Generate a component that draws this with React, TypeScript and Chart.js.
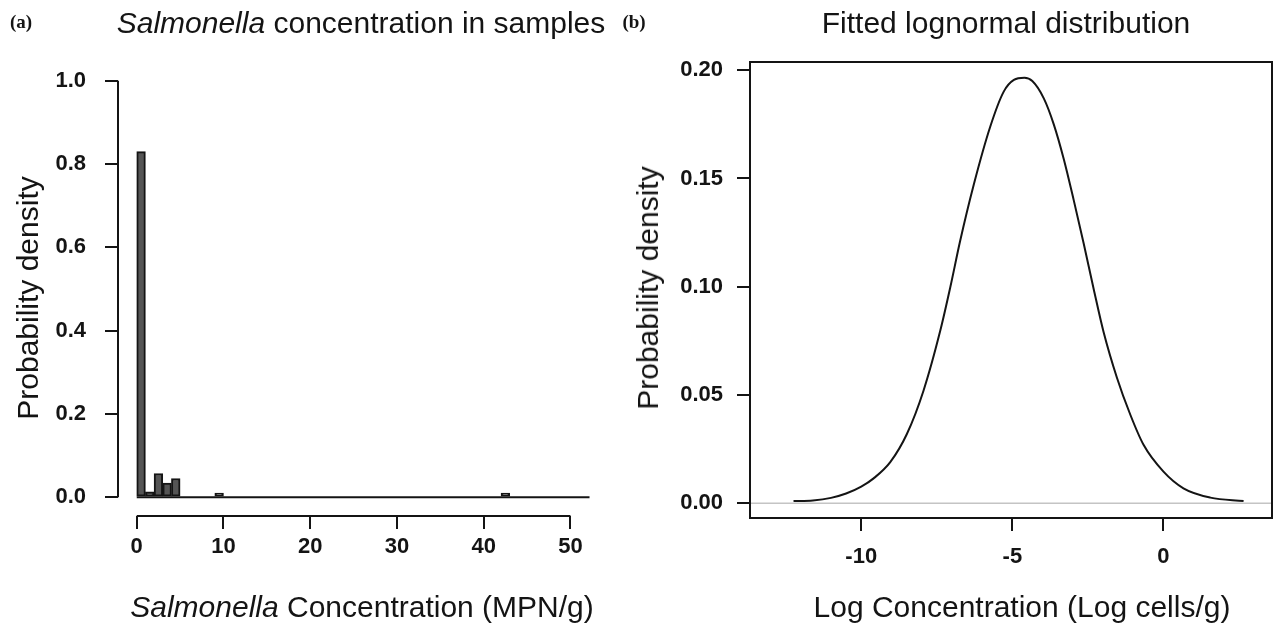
import React, { useEffect, useRef } from "react";
import { Chart, registerables } from "chart.js";

Chart.register(...registerables);

// ---------- Panel (a): histogram of Salmonella concentration ----------
const HIST_BIN_LEFT = [0, 1, 2, 3, 4, 9, 42];
const HIST_DENSITY = [0.83, 0.013, 0.057, 0.034, 0.045, 0.01, 0.01];
const HIST_BASELINE_X = [0, 52.2];
const A_X_TICKS = [0, 10, 20, 30, 40, 50];
const A_Y_TICKS = [0, 0.2, 0.4, 0.6, 0.8, 1.0];
const A_X_RANGE = [-2.16, 54.1];
const A_Y_RANGE = [-0.045, 1.045];

// ---------- Panel (b): fitted lognormal density (log scale) ----------
const FIT_X = [
  -12.24, -11.6, -11.0, -10.5, -10.0, -9.59, -9.04, -8.49, -7.94, -7.38, -7.05,
  -6.73, -6.28, -5.73, -5.29, -4.95, -4.6, -4.34, -3.96, -3.63, -3.3,
  -2.97, -2.64, -2.31, -1.98, -1.54, -1.1, -0.66, 0.0, 0.66, 1.55, 2.65,
];
const FIT_Y = [
  0.001, 0.0013, 0.0025, 0.0045, 0.0077, 0.0115, 0.019, 0.032, 0.052, 0.08, 0.1,
  0.121, 0.147, 0.174, 0.19, 0.1955, 0.1965, 0.195, 0.187, 0.175, 0.159,
  0.14, 0.12, 0.099, 0.079, 0.058, 0.041, 0.027, 0.0146, 0.0069, 0.0026, 0.001,
];
const B_X_TICKS = [-10, -5, 0];
const B_Y_TICKS = [0, 0.05, 0.1, 0.15, 0.2];
const B_X_RANGE = [-13.68, 3.59];
const B_Y_RANGE = [-0.0068, 0.2038];

const SANS = "'Liberation Sans', Arial, Helvetica, sans-serif";
const INK = "#141414";

const segmentAxesPlugin = {
  id: "segmentAxes",
  afterDraw(chart: any) {
    const { ctx, chartArea, scales } = chart;
    const xs = scales.x;
    const ys = scales.y;
    ctx.save();
    ctx.strokeStyle = INK;
    ctx.lineWidth = 2;
    ctx.beginPath();
    ctx.moveTo(chartArea.left, ys.getPixelForValue(A_Y_TICKS[0]));
    ctx.lineTo(chartArea.left, ys.getPixelForValue(A_Y_TICKS[A_Y_TICKS.length - 1]));
    ctx.moveTo(xs.getPixelForValue(A_X_TICKS[0]), chartArea.bottom);
    ctx.lineTo(xs.getPixelForValue(A_X_TICKS[A_X_TICKS.length - 1]), chartArea.bottom);
    ctx.stroke();
    ctx.restore();
  },
};

const boxPlugin = {
  id: "boxFrame",
  afterDraw(chart: any) {
    const { ctx, chartArea } = chart;
    ctx.save();
    ctx.strokeStyle = INK;
    ctx.lineWidth = 2;
    ctx.strokeRect(
      chartArea.left,
      chartArea.top,
      chartArea.right - chartArea.left,
      chartArea.bottom - chartArea.top
    );
    ctx.restore();
  },
};

function fixedTicks(values: number[]) {
  return (scale: any) => {
    scale.ticks = values.map((v) => ({ value: v }));
  };
}

const TICK_FONT = { family: SANS, size: 22, weight: "bold" as const };

function HistPanel() {
  const ref = useRef<HTMLCanvasElement | null>(null);
  useEffect(() => {
    if (!ref.current) return;
    const chart = new Chart(ref.current, {
      type: "bar",
      data: {
        datasets: [
          {
            type: "line",
            data: HIST_BASELINE_X.map((x) => ({ x, y: 0 })),
            borderColor: INK,
            borderWidth: 2,
            pointRadius: 0,
            fill: false,
            order: 2,
          } as any,
          {
            type: "bar",
            data: HIST_BIN_LEFT.map((l, i) => ({ x: l + 0.5, y: HIST_DENSITY[i] })),
            backgroundColor: "#555555",
            borderColor: INK,
            borderWidth: 2,
            borderSkipped: false,
            categoryPercentage: 1,
            barPercentage: 1,
            order: 1,
          } as any,
        ],
      },
      options: {
        responsive: false,
        maintainAspectRatio: false,
        animation: false,
        events: [],
        layout: { autoPadding: false, padding: { left: 0, top: 62, right: 14, bottom: 0 } },
        plugins: { legend: { display: false }, tooltip: { enabled: false }, title: { display: false } },
        scales: {
          x: {
            type: "linear",
            min: A_X_RANGE[0],
            max: A_X_RANGE[1],
            offset: false,
            afterBuildTicks: fixedTicks(A_X_TICKS),
            afterFit: (s: any) => {
              s.height = 108;
            },
            grid: { offset: false, drawOnChartArea: false, drawTicks: true, tickLength: 13, color: INK, lineWidth: 2 },
            border: { display: false },
            ticks: {
              padding: 5,
              maxRotation: 0,
              autoSkip: false,
              color: INK,
              font: TICK_FONT,
              callback: (v: any) => String(v),
            },
          },
          y: {
            type: "linear",
            min: A_Y_RANGE[0],
            max: A_Y_RANGE[1],
            afterBuildTicks: fixedTicks(A_Y_TICKS),
            afterFit: (s: any) => {
              s.width = 118;
            },
            grid: { drawOnChartArea: false, drawTicks: true, tickLength: 13, color: INK, lineWidth: 2 },
            border: { display: false },
            ticks: {
              padding: 19,
              autoSkip: false,
              color: INK,
              font: TICK_FONT,
              callback: (v: any) => Number(v).toFixed(1),
            },
          },
        },
      },
      plugins: [segmentAxesPlugin],
    } as any);
    return () => chart.destroy();
  }, []);
  return <canvas ref={ref} width={620} height={624} style={{ width: 620, height: 624, display: "block" }} />;
}

function FitPanel() {
  const ref = useRef<HTMLCanvasElement | null>(null);
  useEffect(() => {
    if (!ref.current) return;
    const chart = new Chart(ref.current, {
      type: "line",
      data: {
        datasets: [
          {
            data: B_X_RANGE.map((x) => ({ x, y: 0 })),
            borderColor: "#c4c4c4",
            borderWidth: 1.5,
            pointRadius: 0,
            fill: false,
          },
          {
            data: FIT_X.map((x, i) => ({ x, y: FIT_Y[i] })),
            borderColor: INK,
            borderWidth: 2,
            pointRadius: 0,
            fill: false,
            cubicInterpolationMode: "monotone",
          },
        ],
      },
      options: {
        responsive: false,
        maintainAspectRatio: false,
        animation: false,
        events: [],
        layout: { autoPadding: false, padding: { left: 0, top: 62, right: 2, bottom: 0 } },
        plugins: { legend: { display: false }, tooltip: { enabled: false }, title: { display: false } },
        scales: {
          x: {
            type: "linear",
            min: B_X_RANGE[0],
            max: B_X_RANGE[1],
            afterBuildTicks: fixedTicks(B_X_TICKS),
            afterFit: (s: any) => {
              s.height = 106;
            },
            grid: { drawOnChartArea: false, drawTicks: true, tickLength: 13, color: INK, lineWidth: 2 },
            border: { display: false },
            ticks: {
              padding: 13,
              maxRotation: 0,
              autoSkip: false,
              color: INK,
              font: TICK_FONT,
              callback: (v: any) => String(v),
            },
          },
          y: {
            type: "linear",
            min: B_Y_RANGE[0],
            max: B_Y_RANGE[1],
            afterBuildTicks: fixedTicks(B_Y_TICKS),
            afterFit: (s: any) => {
              s.width = 130;
            },
            grid: { drawOnChartArea: false, drawTicks: true, tickLength: 13, color: INK, lineWidth: 2 },
            border: { display: false },
            ticks: {
              padding: 14,
              autoSkip: false,
              color: INK,
              font: TICK_FONT,
              callback: (v: any) => Number(v).toFixed(2),
            },
          },
        },
      },
      plugins: [boxPlugin],
    } as any);
    return () => chart.destroy();
  }, []);
  return <canvas ref={ref} width={654} height={624} style={{ width: 654, height: 624, display: "block" }} />;
}

function Label(props: {
  x: number;
  y: number;
  size: number;
  rotate?: boolean;
  serif?: boolean;
  bold?: boolean;
  children: React.ReactNode;
}) {
  const { x, y, size, rotate, serif, bold, children } = props;
  return (
    <div
      style={{
        position: "absolute",
        left: x,
        top: y,
        transform: `translate(-50%, -50%)${rotate ? " rotate(-90deg)" : ""}`,
        whiteSpace: "nowrap",
        fontFamily: serif ? "'Liberation Serif', 'Times New Roman', serif" : SANS,
        fontWeight: bold ? 700 : 400,
        fontSize: size,
        lineHeight: 1,
        color: INK,
      }}
    >
      {children}
    </div>
  );
}

export default function App() {
  return (
    <div style={{ position: "absolute", left: 0, top: 0, width: 1274, height: 624, background: "#fff", overflow: "hidden" }}>
      <div style={{ position: "absolute", left: 0, top: 0 }}>
        <HistPanel />
      </div>
      <div style={{ position: "absolute", left: 620, top: 0 }}>
        <FitPanel />
      </div>
      <Label x={21} y={21} size={19} serif bold>(a)</Label>
      <Label x={634} y={21} size={19} serif bold>(b)</Label>
      <Label x={361} y={23} size={30}>
        <i>Salmonella</i> concentration in samples
      </Label>
      <Label x={1006} y={23} size={30}>Fitted lognormal distribution</Label>
      <Label x={28} y={298} size={30} rotate>Probability density</Label>
      <Label x={648} y={288} size={30} rotate>Probability density</Label>
      <Label x={362} y={607} size={30}>
        <i>Salmonella</i> Concentration (MPN/g)
      </Label>
      <Label x={1022} y={607} size={30}>Log Concentration (Log cells/g)</Label>
    </div>
  );
}
